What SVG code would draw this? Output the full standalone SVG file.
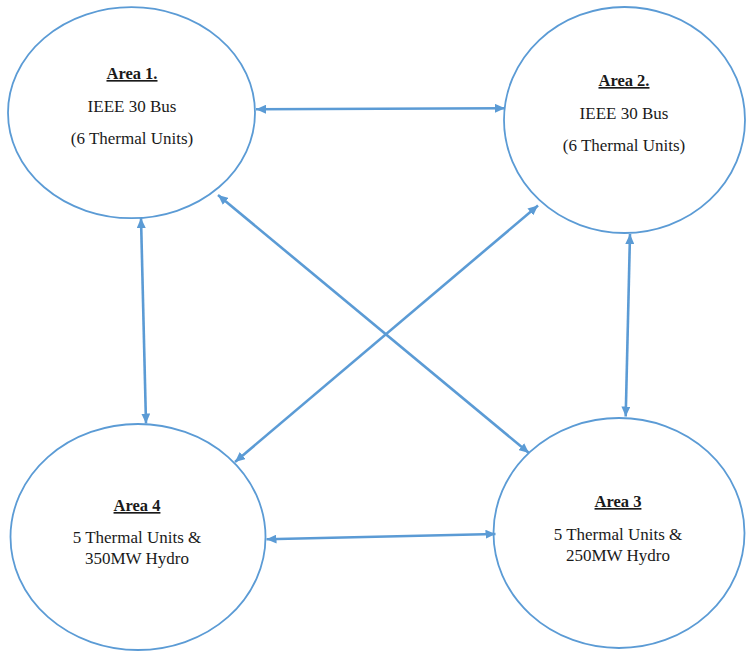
<svg xmlns="http://www.w3.org/2000/svg" width="748" height="651" viewBox="0 0 748 651">
<defs>
<style>
.node ellipse{fill:#ffffff;stroke:#5b9bd5;stroke-width:1.8}
.node text{font-family:'Liberation Serif','DejaVu Serif',serif;font-size:17px;fill:#1a1a1a;text-anchor:middle}
.node .t{font-weight:bold;font-size:16.5px;text-decoration:underline}
.conn line{stroke:#5b9bd5;stroke-width:2.6;marker-start:url(#ah);marker-end:url(#ah)}
</style>
<marker id="ah" markerUnits="userSpaceOnUse" markerWidth="10" markerHeight="9" refX="10" refY="4.5" orient="auto-start-reverse" viewBox="0 0 10 9">
<path d="M0,0 L10,4.5 L0,9 Z" fill="#5b9bd5"/>
</marker>
</defs>
<rect width="748" height="651" fill="#ffffff"/>
<g id="area1" class="node">
<ellipse cx="131.5" cy="112.7" rx="123.5" ry="105.5"/>
<text class="t" x="132" y="79">Area 1.</text>
<text x="132" y="112">IEEE 30 Bus</text>
<text x="132" y="144">(6 Thermal Units)</text>
</g>
<g id="area2" class="node">
<ellipse cx="624.5" cy="120" rx="120.5" ry="113"/>
<text class="t" x="624" y="86">Area 2.</text>
<text x="624" y="119">IEEE 30 Bus</text>
<text x="624" y="151">(6 Thermal Units)</text>
</g>
<g id="area4" class="node">
<ellipse cx="138" cy="537" rx="127.5" ry="113"/>
<text class="t" x="137" y="511">Area 4</text>
<text x="137" y="543">5 Thermal Units &amp;</text>
<text x="137" y="564">350MW Hydro</text>
</g>
<g id="area3" class="node">
<ellipse cx="619" cy="533" rx="125.5" ry="115"/>
<text class="t" x="618" y="507">Area 3</text>
<text x="618" y="540">5 Thermal Units &amp;</text>
<text x="618" y="561">250MW Hydro</text>
</g>
<g id="connectors" class="conn">
<line x1="256" y1="109.3" x2="505" y2="108.3"/>
<line x1="141" y1="218" x2="146" y2="423.5"/>
<line x1="218" y1="195" x2="529" y2="453"/>
<line x1="538" y1="205.5" x2="235" y2="462"/>
<line x1="630" y1="234" x2="625.7" y2="416.5"/>
<line x1="266.5" y1="539.3" x2="495.5" y2="534"/>
</g>
</svg>
